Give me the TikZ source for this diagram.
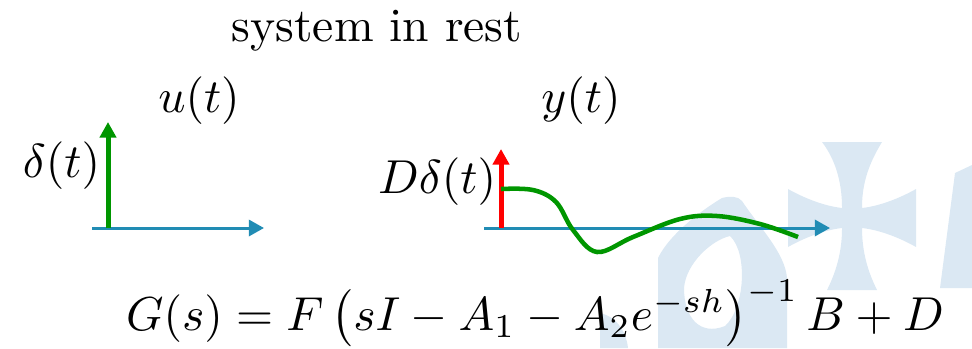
\documentclass[tikz,border=0pt]{standalone}
\usepackage{amsmath}
\usetikzlibrary{arrows.meta}

\begin{document}
\begin{tikzpicture}[x=0.21pt, y=0.21pt,
    every node/.style={inner sep=0pt},
    axis/.style={-{Triangle[length=3.2pt,width=3.4pt]}, line width=0.63pt, draw=axisblue},
    impulse/.style={-{Triangle[length=3.3pt,width=3.4pt]}, line width=1.05pt}]
        % Define the colors
        \definecolor{axisblue}{RGB}{33,140,180}
        \definecolor{respgreen}{RGB}{0,150,0}
        \definecolor{wmblue}{RGB}{219,232,243}

        \useasboundingbox (0,0) rectangle (972,348);

        % Draw the watermark in the background
        \fill[wmblue] (822,206) -- (882,206) .. controls (866,180) and (862,160) .. (862,140)
            .. controls (880,142) and (900,150) .. (916,159) -- (916,101)
            .. controls (900,110) and (880,118) .. (862,120)
            .. controls (862,100) and (866,80) .. (877,58) -- (827,58)
            .. controls (838,80) and (842,100) .. (842,120)
            .. controls (824,118) and (804,110) .. (788,101) -- (788,159)
            .. controls (804,150) and (824,142) .. (842,140)
            .. controls (842,160) and (838,185) .. (822,206) -- cycle;
        \fill[wmblue] (955,175) -- (972,183) -- (972,60) -- (940,60) -- cycle;
        \fill[wmblue, even odd rule] (658,0) -- (658,90)
            .. controls (670,115) and (705,140) .. (722,150)
            .. controls (730,152) and (738,152) .. (742,147)
            .. controls (760,120) and (785,95) .. (787,70) -- (787,0) -- cycle
            (730,112) .. controls (748,95) and (745,40) .. (725,22)
            .. controls (700,12) and (684,30) .. (684,60)
            .. controls (686,85) and (712,108) .. (730,112) -- cycle;
        \fill[wmblue] (600,0) -- (628,0) .. controls (626,18) and (615,32) .. (600,35) -- cycle;

        % Draw the labels
        \node[anchor=base] (Title) at (377,306) {system in rest};
        \node[anchor=base] (InLabel) at (199,236) {$u(t)$};
        \node[anchor=base] (OutLabel) at (581,236) {$y(t)$};
        \node[anchor=base east] (DeltaLabel) at (101,171) {$\delta(t)$};
        \node[anchor=base east] (DDeltaLabel) at (497,155) {$D\delta(t)$};
        \node[anchor=base] (TransferFcn) at (535,18) {$G(s) = F\left(sI - A_1 - A_2 e^{-sh}\right)^{-1} B + D$};

        % Coordinates of the two plots
        \coordinate (InAxisStart) at (92,120);
        \coordinate (InAxisEnd) at (264,120);
        \coordinate (InOrigin) at (108,120);
        \coordinate (InImpulseTop) at (108,226);
        \coordinate (OutAxisStart) at (484,120);
        \coordinate (OutAxisEnd) at (830,120);
        \coordinate (OutOrigin) at (501,120);
        \coordinate (OutImpulseTop) at (501,199);

        % Draw the time axes
        \draw[axis] (InAxisStart) -- (InAxisEnd);
        \draw[axis] (OutAxisStart) -- (OutAxisEnd);

        % Draw the impulses
        \draw[impulse, draw=respgreen] (InOrigin) -- (InImpulseTop);
        \draw[impulse, draw=red] (OutOrigin) -- (OutImpulseTop);

        % Draw the response
        \draw[respgreen, line width=0.95pt] plot[smooth, tension=0.6] coordinates
            {(501,159) (533,158) (556,146) (573,118) (597,96) (633,111) (680,129) (717,132) (760,124) (798,111)};
\end{tikzpicture}
\end{document}
